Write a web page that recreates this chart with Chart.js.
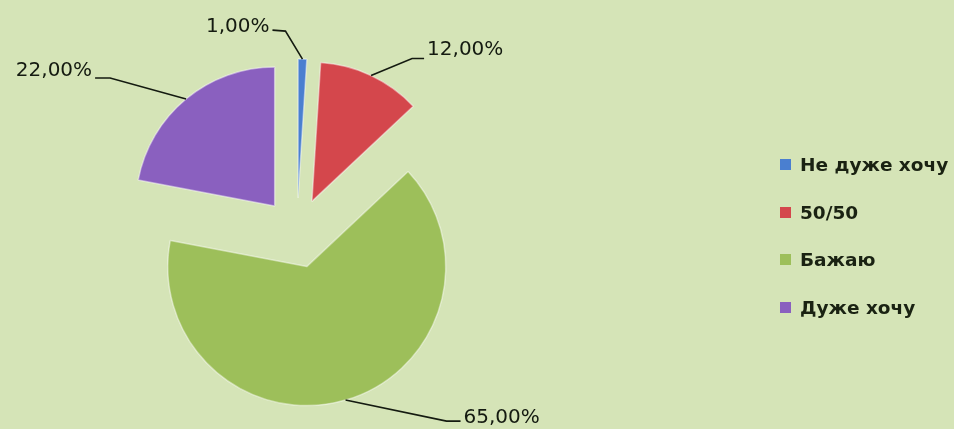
<!DOCTYPE html>
<html>
<head>
<meta charset="utf-8">
<script src="https://cdn.jsdelivr.net/npm/chart.js@4.4.0/dist/chart.umd.min.js"></script>
<style>
  html, body { margin: 0; padding: 0; background: #d5e4b7; }
  #wrap { position: relative; width: 954px; height: 429px; }
  #legend { position: absolute; left: 780px; top: 141px; margin: 0; padding: 0; list-style: none;
            font-family: "DejaVu Sans"; font-weight: bold; font-size: 18.5px; color: #1a2212; }
  #legend li { height: 47.5px; display: flex; align-items: center; white-space: nowrap; }
  #legend span { display: inline-block; width: 11px; height: 11px; margin-right: 9px; }
</style>
</head>
<body>
<div id="wrap">
  <canvas id="myChartWish" width="954" height="429"></canvas>
  <ul id="legend"></ul>
</div>
<script>
const categories = ['Не дуже хочу', '50/50', 'Бажаю', 'Дуже хочу'];
const shares = [1, 12, 65, 22];
const sliceColors = ['#4a7fd0', '#d4474c', '#9dbf5a', '#8a60bf'];

const pieRadius = 139;
const explode = 35; // how far each slice is pulled out from the centre

// where the leader line bends and ends, relative to the point on the slice edge
const leaderLayout = [
    { elbow: [-17, -28], end: [-30, -29], align: 'right', dy: -3 },
    { elbow: [41, -17], end: [53, -17], align: 'left', dy: -9 },
    { elbow: [101, 21], end: [115, 21], align: 'left', dy: -3 },
    { elbow: [-76, -21], end: [-91, -21], align: 'right', dy: -7 }
];

// push every slice out along its middle angle (chart.js offset also shrinks thin slices)
const explodeSlices = {
    id: 'explodeSlices',
    afterDatasetUpdate(chart, args) {
        args.meta.data.forEach((arc) => {
            const mid = (arc.startAngle + arc.endAngle) / 2;
            arc.x += Math.cos(mid) * explode;
            arc.y += Math.sin(mid) * explode;
        });
    }
};

const leaderLines = {
    id: 'leaderLines',
    afterDatasetsDraw(chart) {
        const ctx = chart.ctx;
        const arcs = chart.getDatasetMeta(0).data;
        ctx.save();
        ctx.strokeStyle = '#141a10';
        ctx.lineWidth = 1.6;
        ctx.fillStyle = '#141a10';
        ctx.font = '20px "DejaVu Sans"';
        ctx.textBaseline = 'middle';
        arcs.forEach((arc, i) => {
            const mid = (arc.startAngle + arc.endAngle) / 2;
            const ax = arc.x + Math.cos(mid) * arc.outerRadius;
            const ay = arc.y + Math.sin(mid) * arc.outerRadius;
            const l = leaderLayout[i];
            ctx.beginPath();
            ctx.moveTo(ax, ay);
            ctx.lineTo(ax + l.elbow[0], ay + l.elbow[1]);
            ctx.lineTo(ax + l.end[0], ay + l.end[1]);
            ctx.stroke();
            ctx.textAlign = l.align;
            const tx = ax + l.end[0] + (l.align === 'left' ? 3 : -3);
            const text = shares[i].toFixed(2).replace('.', ',') + '%';
            ctx.fillText(text, tx, ay + l.end[1] + l.dy);
        });
        ctx.restore();
    }
};

const ctx7 = document.getElementById('myChartWish').getContext('2d');
const chart7 = new Chart(ctx7, {
    type: 'pie',
    data: {
        labels: categories,
        datasets: [{
            data: shares,
            backgroundColor: sliceColors,
            borderColor: 'rgba(255, 255, 255, 0.45)',
            borderWidth: 1.5
        }]
    },
    options: {
        responsive: false,
        animation: false,
        radius: pieRadius,
        layout: { padding: { left: 0, right: 360, top: 37, bottom: 0 } },
        plugins: {
            legend: { display: false },
            tooltip: { enabled: false }
        }
    },
    plugins: [explodeSlices, leaderLines]
});

// legend built from the same arrays
const legendEl = document.getElementById('legend');
categories.forEach((name, i) => {
    const li = document.createElement('li');
    const box = document.createElement('span');
    box.style.background = sliceColors[i];
    li.appendChild(box);
    li.appendChild(document.createTextNode(name));
    legendEl.appendChild(li);
});
</script>
</body>
</html>
